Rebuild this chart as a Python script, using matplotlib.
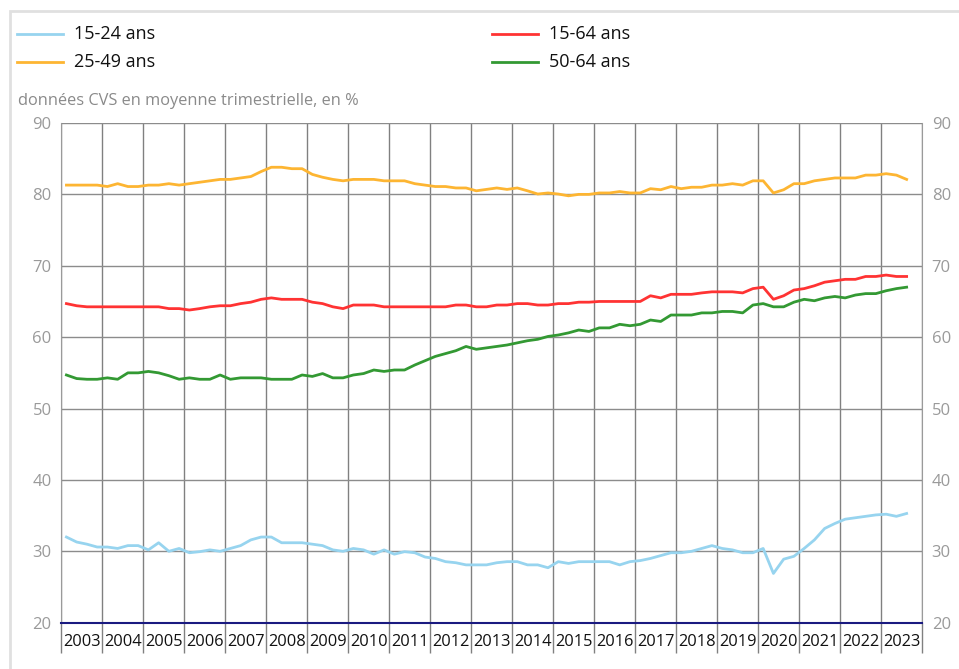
import matplotlib
matplotlib.use("Agg")
import matplotlib.pyplot as plt
from matplotlib.lines import Line2D
from matplotlib.patches import Rectangle
import numpy as np

plt.rcParams['font.family'] = ['Open Sans', 'DejaVu Sans']

# Taux d'emploi trimestriel, 2003T1 - 2023T3
first_year = 2003
years = list(range(2003, 2024))

age_15_24 = [32.0, 31.3, 31.0, 30.6, 30.6, 30.4, 30.8, 30.8, 30.2, 31.2, 30.0, 30.4,
             29.8, 29.95, 30.2, 30.0, 30.4, 30.8, 31.6, 32.0, 32.0, 31.2, 31.2, 31.2,
             31.0, 30.8, 30.2, 30.0, 30.4, 30.2, 29.6, 30.2, 29.6, 29.95, 29.8, 29.2,
             29.0, 28.55, 28.4, 28.1, 28.1, 28.1, 28.4, 28.55,
             28.55, 28.1, 28.1, 27.7, 28.55, 28.3, 28.55, 28.55, 28.55, 28.55, 28.1, 28.55,
             28.7, 29.0, 29.4, 29.8, 29.8, 30.0, 30.4, 30.8, 30.4, 30.2, 29.8, 29.8,
             30.4, 26.9, 28.9, 29.3, 30.4, 31.6, 33.2, 33.9, 34.5, 34.7, 34.9, 35.1,
             35.2, 34.9, 35.3]

age_25_49 = [81.3, 81.3, 81.3, 81.3, 81.1, 81.5, 81.1, 81.1, 81.3, 81.3, 81.5, 81.3,
             81.5, 81.7, 81.9, 82.1, 82.1, 82.3, 82.5, 83.2, 83.8, 83.8, 83.6, 83.6,
             82.8, 82.4, 82.1, 81.9, 82.1, 82.1, 82.1, 81.9, 81.9, 81.9, 81.5, 81.3,
             81.1, 81.1, 80.9, 80.9, 80.5, 80.7, 80.9, 80.7,
             80.9, 80.5, 80.05, 80.2, 80.05, 79.8, 80.0, 80.0, 80.2, 80.2, 80.4, 80.2,
             80.2, 80.8, 80.65, 81.1, 80.8, 81.0, 81.0, 81.3, 81.3, 81.5, 81.3, 81.9,
             81.9, 80.2, 80.65, 81.5, 81.5, 81.9, 82.1, 82.3, 82.3, 82.3, 82.7, 82.7,
             82.9, 82.7, 82.1]

age_15_64 = [64.7, 64.4, 64.25, 64.25, 64.25, 64.25, 64.25, 64.25, 64.25, 64.25, 64.0, 64.0,
             63.8, 64.0, 64.25, 64.4, 64.4, 64.7, 64.9, 65.3, 65.5, 65.3, 65.3, 65.3,
             64.9, 64.7, 64.25, 64.0, 64.5, 64.5, 64.5, 64.25, 64.25, 64.25, 64.25, 64.25,
             64.25, 64.25, 64.5, 64.5, 64.25, 64.25, 64.5, 64.5,
             64.7, 64.7, 64.5, 64.5, 64.7, 64.7, 64.9, 64.9, 65.0, 65.0, 65.0, 65.0,
             65.0, 65.8, 65.5, 66.0, 66.0, 66.0, 66.2, 66.35, 66.35, 66.35, 66.2, 66.8,
             67.0, 65.3, 65.8, 66.6, 66.8, 67.2, 67.7, 67.9, 68.1, 68.1, 68.5, 68.5,
             68.7, 68.5, 68.5]

age_50_64 = [54.7, 54.2, 54.1, 54.1, 54.3, 54.1, 55.0, 55.0, 55.2, 55.0, 54.6, 54.1,
             54.3, 54.1, 54.1, 54.7, 54.1, 54.3, 54.3, 54.3, 54.1, 54.1, 54.1, 54.7,
             54.5, 54.9, 54.3, 54.3, 54.7, 54.9, 55.4, 55.2, 55.4, 55.4, 56.1, 56.7,
             57.3, 57.7, 58.1, 58.7, 58.3, 58.5, 58.7, 58.9,
             59.2, 59.5, 59.7, 60.1, 60.3, 60.6, 61.0, 60.8, 61.3, 61.3, 61.8, 61.6,
             61.8, 62.4, 62.2, 63.1, 63.1, 63.1, 63.4, 63.4, 63.6, 63.6, 63.4, 64.5,
             64.7, 64.25, 64.25, 64.9, 65.3, 65.1, 65.5, 65.7, 65.5, 65.9, 66.1, 66.1,
             66.5, 66.8, 67.0]

series = [
    ("15-24 ans", age_15_24, "#97d4ef"),
    ("25-49 ans", age_25_49, "#fdb532"),
    ("15-64 ans", age_15_64, "#ff3333"),
    ("50-64 ans", age_50_64, "#339933"),
]

y_ticks = [20, 30, 40, 50, 60, 70, 80, 90]

W, H = 959, 669
fig = plt.figure(figsize=(W / 100, H / 100), dpi=100)

# cadre gris clair autour du graphique
fig.add_artist(Rectangle((10 / W, -0.1), 1.2, 1.1 - 11 / H, transform=fig.transFigure,
                         fill=False, edgecolor="#e0e0e0", linewidth=2))

ax = fig.add_axes([61.3 / W, 1 - 622.7 / H, (922 - 61.3) / W, (622.7 - 123) / H])

n = len(age_15_24)
t = first_year + (np.arange(n) + 0.5) / 4

for label, values, color in series:
    ax.plot(t, values, color=color, linewidth=2, solid_joinstyle="round", zorder=3)

ax.set_xlim(2003, 2024)
ax.set_ylim(20, 90)

# axe des abscisses : séparateurs annuels + libellés centrés
ax.set_xticks(range(2003, 2025))
ax.set_xticklabels([])
ax.set_xticks([y + 0.5 for y in years], minor=True)
ax.set_xticklabels([str(y) for y in years], minor=True, fontsize=11.8, color="#111111")
ax.tick_params(axis="x", which="major", length=21.5, color="#808080", width=1)
ax.tick_params(axis="x", which="minor", length=0, pad=8)
ax.grid(axis="x", which="major", color="#808080", linewidth=1)

ax.set_yticks(y_ticks)
ax.tick_params(axis="y", length=0, pad=7, labelsize=12, labelcolor="#9a9a9a",
               left=True, right=True, labelleft=True, labelright=True)
ax.grid(axis="y", color="#8c8c8c", linewidth=1)
ax.set_axisbelow(True)

for side in ["left", "right"]:
    ax.spines[side].set_color("#9a9a9a")
ax.spines["top"].set_visible(False)
ax.spines["bottom"].set_color("#1a1a80")
ax.spines["bottom"].set_linewidth(1.5)
ax.spines["bottom"].set_zorder(4)

# légende
legend_pos = [(17, 34), (17, 62), (492, 34), (492, 62)]
for (label, values, color), (lx, ly) in zip(series, legend_pos):
    fig.add_artist(Line2D([lx / W, (lx + 46) / W], [1 - ly / H, 1 - ly / H],
                          transform=fig.transFigure, color=color, linewidth=2))
    fig.text((lx + 57) / W, 1 - ly / H, label, fontsize=13, va="center", ha="left",
             color="#111111")

fig.text(18 / W, 1 - 101 / H, "données CVS en moyenne trimestrielle, en %",
         fontsize=11.8, color="#8a8a8a", va="center", ha="left")

fig.savefig("out.png", dpi=100)
